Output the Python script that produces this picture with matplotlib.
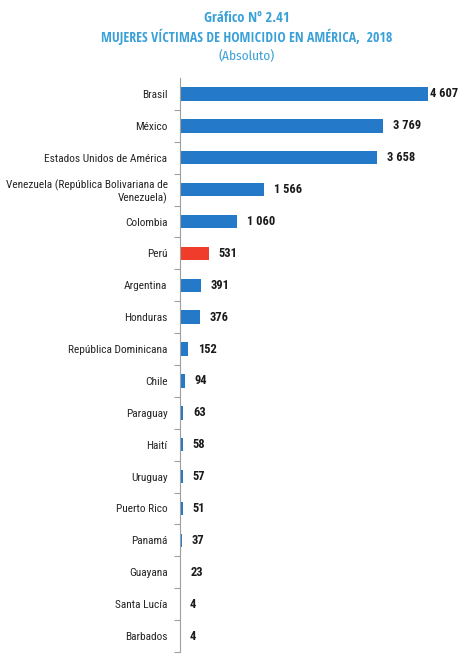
import matplotlib.pyplot as plt
from matplotlib.ticker import FixedLocator

paises = ['Brasil', 'México', 'Estados Unidos de América',
          'Venezuela (República Bolivariana de\nVenezuela)', 'Colombia', 'Perú',
          'Argentina', 'Honduras', 'República Dominicana', 'Chile', 'Paraguay',
          'Haití', 'Uruguay', 'Puerto Rico', 'Panamá', 'Guayana', 'Santa Lucía',
          'Barbados']
valores = [4607, 3769, 3658, 1566, 1060, 531, 391, 376, 152, 94, 63, 58, 57,
           51, 37, 23, 4, 4]
etiquetas = ['4 607', '3 769', '3 658', '1 566', '1 060', '531', '391', '376',
             '152', '94', '63', '58', '57', '51', '37', '23', '4', '4']

azul = '#2479c8'
rojo = '#f03c2a'
celeste = '#3aa0d8'
fuente = ['Roboto Condensed', 'Liberation Sans', 'DejaVu Sans']
fuente_titulo = ['Open Sans Condensed', 'Fira Sans Condensed', 'DejaVu Sans']
fuente_sub = ['Fira Sans Condensed', 'DejaVu Sans']

fig = plt.figure(figsize=(4.68, 6.61), dpi=100)
ax = fig.add_axes([180 / 468, 1 - 652 / 661, 260 / 468, 574 / 661])

colores = [rojo if p == 'Perú' else azul for p in paises]
pos = list(range(len(paises)))
ax.barh(pos, valores, height=0.42, color=colores)
ax.set_ylim(len(paises) - 0.5, -0.5)
ax.set_xlim(0, 4607 * 260 / 248)

for i, (v, t) in enumerate(zip(valores, etiquetas)):
    dx = 1.5 if v == max(valores) else 7
    ax.annotate(t, (v, i), xytext=(dx, 0), textcoords='offset points',
                va='center', ha='left', fontsize=9, fontweight='bold',
                family=fuente, color='#1a1a1a')

ax.set_yticks(pos)
ax.set_yticklabels(paises, family=fuente, fontsize=8.2, color='#262626')
ax.tick_params(axis='y', which='major', length=0, pad=9)
ax.yaxis.set_minor_locator(FixedLocator([i + 0.5 for i in range(len(paises))]))
ax.tick_params(axis='y', which='minor', length=4, color='#a0a0a0', width=0.8)
ax.set_xticks([])
for s in ['top', 'right', 'bottom']:
    ax.spines[s].set_visible(False)
ax.spines['left'].set_color('#a0a0a0')
ax.spines['left'].set_linewidth(0.8)

xc = 247 / 468
fig.text(xc, 1 - 18 / 661, 'Gráfico Nº 2.41', ha='center', va='center',
         fontsize=10.5, fontweight='bold', color=celeste, family=fuente_titulo)
fig.text(xc, 1 - 37 / 661, 'MUJERES VÍCTIMAS DE HOMICIDIO EN AMÉRICA,  2018',
         ha='center', va='center', fontsize=10, fontweight='bold',
         color=celeste, family=fuente_titulo)
fig.text(xc, 1 - 56 / 661, '(Absoluto)', ha='center', va='center',
         fontsize=9.5, color=celeste, family=fuente_sub)

fig.savefig('out.png', dpi=100)
